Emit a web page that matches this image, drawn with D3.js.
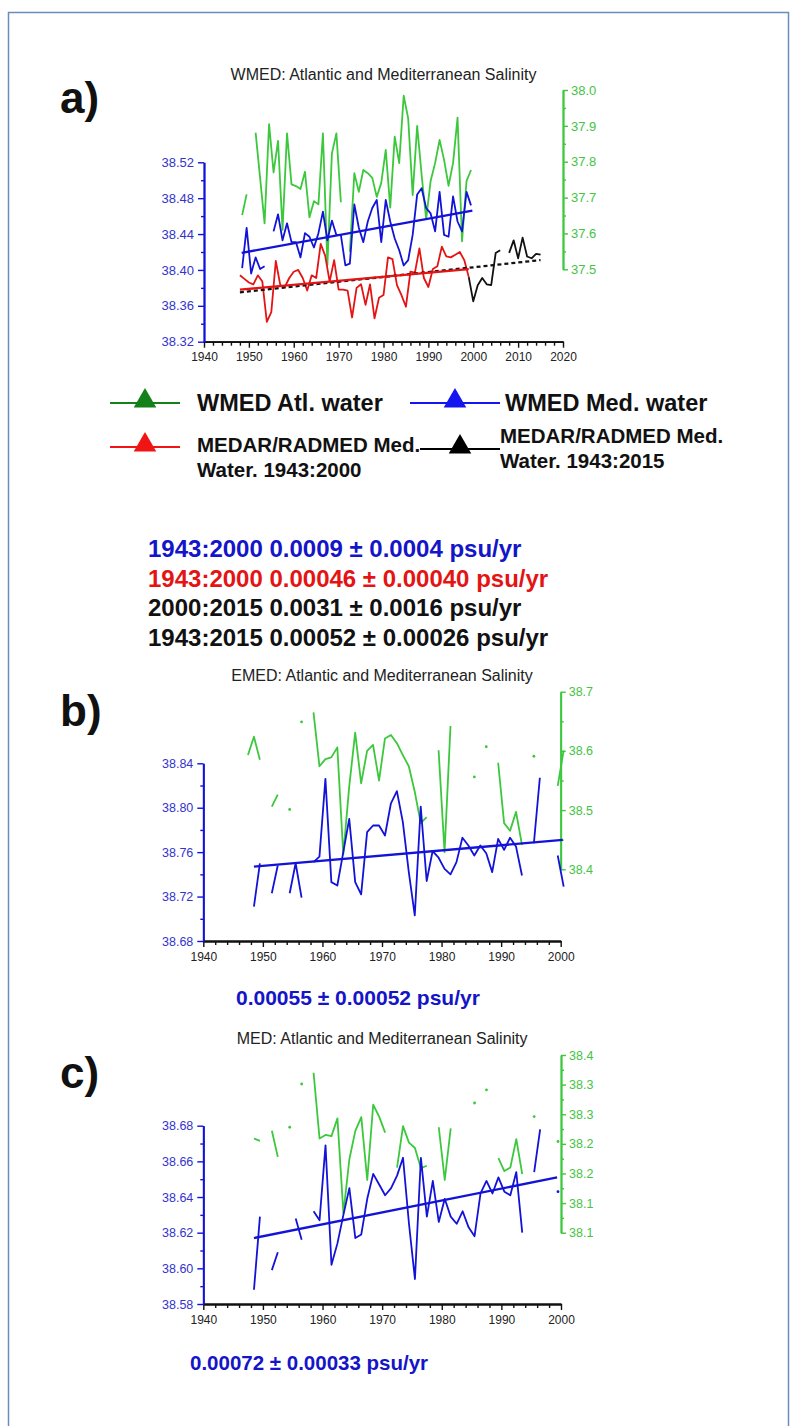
<!DOCTYPE html>
<meta charset="utf-8">
<body style="margin:0;background:#fff">
<svg id="fig" width="790" height="1426"></svg>
<script src="https://cdnjs.cloudflare.com/ajax/libs/d3/7.8.5/d3.min.js"></script>
<script>
// ---------------- data ----------------
// panel a) WMED, annual values 1948..1999
var aYears = d3.range(1948, 2000);
var aMedWater = [38.402, 38.447, 38.396, 38.414, 38.401, 38.404, null, 38.443, 38.462, 38.433,
  38.452, 38.431, 38.431, 38.414, 38.441, 38.437, 38.425, 38.441, 38.465, 38.433,
  38.455, 38.439, 38.439, 38.405, 38.407, 38.473, 38.447, 38.431, 38.454, 38.469,
  38.478, 38.431, 38.478, 38.454, 38.435, 38.422, 38.405, 38.411, 38.439, 38.484,
  38.491, 38.469, 38.463, 38.443, 38.487, 38.439, 38.437, 38.482, 38.454, 38.443,
  38.487, 38.472];
var aAtlWater = [37.651, 37.709, null, 37.881, 37.755, 37.628, 37.905, 37.770, 37.858, 37.610,
  37.879, 37.737, 37.732, 37.724, 37.772, 37.645, 37.690, 37.681, 37.879, 37.512,
  37.823, 37.879, 37.687, null, 37.549, 37.768, 37.716, 37.777, 37.768, 37.755,
  37.702, 37.741, 37.833, 37.672, 37.870, 37.796, 37.984, 37.921, 37.707, 37.900,
  37.763, 37.640, 37.746, 37.796, 37.861, 37.805, 37.733, 37.796, 37.923, 37.578,
  37.746, 37.777];
var aMedar2000 = [38.394, 38.390, 38.386, 38.384, 38.394, 38.387, 38.342, 38.353, 38.410, 38.383,
  38.381, 38.391, 38.398, 38.400, 38.391, 38.377, 38.394, 38.391, 38.429, 38.416,
  38.387, 38.411, 38.378, 38.378, 38.377, 38.347, 38.380, 38.384, 38.361, 38.384,
  38.346, 38.369, 38.372, 38.414, 38.412, 38.383, 38.372, 38.359, 38.398, 38.397,
  38.424, 38.391, 38.381, 38.401, 38.404, 38.426, 38.415, 38.414, 38.417, 38.420,
  38.411, 38.392];
var aYears2015 = d3.range(1999, 2016);
var aMedar2015 = [38.392, 38.365, 38.383, 38.391, 38.384, 38.383, 38.419, 38.422, null, 38.419,
  38.433, 38.413, 38.436, 38.415, 38.413, 38.418, 38.417];
// trend lines [year, value]
var aTrendMed = [[1948.4, 38.419], [1999.8, 38.466]];
var aTrendMedar2000 = [[1948, 38.378], [1999, 38.401]];
var aTrendMedar2015 = [[1948, 38.375], [2015, 38.411]];

// panel b) EMED, 1947..2000
var bcYears = d3.range(1947, 2001);
var bMedWater = [null, 38.711, 38.750, null, 38.723, 38.748, null, 38.723, 38.750, 38.719,
  null, 38.751, 38.756, 38.826, 38.733, 38.730, 38.760, 38.790, 38.733, 38.722,
  38.778, 38.784, 38.784, 38.775, 38.804, 38.815, 38.787, 38.742, 38.703, 38.801,
  38.734, 38.761, 38.755, 38.745, 38.740, 38.751, 38.773, 38.766, 38.757, 38.766,
  38.759, 38.742, 38.772, 38.762, 38.773, 38.765, 38.739, null, 38.768, 38.827,
  null, null, 38.757, 38.729];
var bAtlWater = [38.593, 38.624, 38.585, null, 38.506, 38.526, null, 38.501, null, 38.649,
  null, 38.665, 38.574, 38.586, 38.589, 38.606, 38.425, 38.540, 38.631, 38.545,
  38.600, 38.610, 38.550, 38.621, 38.627, 38.613, 38.593, 38.574, 38.531, 38.478,
  38.488, null, 38.601, 38.429, 38.642, null, null, null, 38.556, null,
  38.607, null, 38.580, 38.478, 38.465, 38.497, 38.441, null, 38.591, null,
  null, null, 38.541, 38.601];
var bTrendMed = [[1948.5, 38.747], [2000.35, 38.771]];

// panel c) MED, 1947..2000
var cMedWater = [null, 38.588, 38.629, null, 38.599, 38.609, null, null, 38.628, 38.616,
  null, 38.632, 38.627, 38.669, 38.602, 38.614, 38.630, 38.645, 38.617, 38.619,
  38.639, 38.653, 38.647, 38.641, 38.645, 38.652, 38.662, 38.625, 38.594, 38.662,
  38.629, 38.649, 38.626, 38.639, 38.629, 38.625, 38.632, 38.623, 38.618, 38.642,
  38.649, 38.642, 38.651, 38.643, 38.641, 38.654, 38.620, null, 38.654, 38.678,
  null, null, 38.643, null];
var cAtlWater = [null, 38.259, 38.255, null, 38.272, 38.228, null, 38.278, null, 38.351,
  null, 38.370, 38.259, 38.265, 38.263, 38.293, 38.133, 38.224, 38.272, 38.295,
  38.189, 38.316, 38.296, 38.269, null, 38.210, 38.280, 38.252, 38.243, 38.209,
  38.213, null, 38.278, 38.189, 38.276, null, null, null, 38.319, null,
  38.341, null, 38.226, 38.204, 38.210, 38.258, 38.199, null, 38.296, null,
  null, null, 38.254, null];
var cTrendMed = [[1948.5, 38.617], [1999.35, 38.651]];

// tick values and labels
var aYearTicks = [1940, 1950, 1960, 1970, 1980, 1990, 2000, 2010, 2020];
var bcYearTicks = [1940, 1950, 1960, 1970, 1980, 1990, 2000];
var aLeftTicks = [38.32, 38.36, 38.40, 38.44, 38.48, 38.52];
var aLeftMinor = [38.34, 38.38, 38.42, 38.46, 38.50];
var aRightTicks = [37.5, 37.6, 37.7, 37.8, 37.9, 38.0];
var aRightMinor = [37.55, 37.65, 37.75, 37.85, 37.95];
var bLeftTicks = [38.68, 38.72, 38.76, 38.80, 38.84];
var bLeftMinor = [38.70, 38.74, 38.78, 38.82];
var bRightTicks = [38.4, 38.5, 38.6, 38.7];
var bRightMinor = [38.45, 38.55, 38.65];
var cLeftTicks = [38.58, 38.60, 38.62, 38.64, 38.66, 38.68];
var cLeftMinor = [38.59, 38.61, 38.63, 38.65, 38.67];
var cRightTicks = [38.10, 38.15, 38.20, 38.25, 38.30, 38.35, 38.40];
var cRightLabels = ["38.1", "38.1", "38.2", "38.2", "38.3", "38.3", "38.4"];
var cRightMinor = [38.125, 38.175, 38.225, 38.275, 38.325, 38.375];

var aStats = ["1943:2000 0.0009 \u00b1 0.0004 psu/yr", "1943:2000 0.00046 \u00b1 0.00040 psu/yr",
  "2000:2015 0.0031 \u00b1 0.0016 psu/yr", "1943:2015 0.00052 \u00b1 0.00026 psu/yr"];
var bStat = "0.00055 \u00b1 0.00052 psu/yr";
var cStat = "0.00072 \u00b1 0.00033 psu/yr";

// ---------------- drawing ----------------
var FONT = "Arial, 'Liberation Sans', sans-serif";
var BLUE = '#1212d8', GREEN = '#3cc83c', RED = '#e41414', BLACK = '#111';
var svg = d3.select('#fig');

// frame round the figure
svg.append('rect').attr('x', 8.5).attr('y', 12.5).attr('width', 780).attr('height', 1440)
  .attr('fill', 'none').attr('stroke', '#6b8dbd').attr('stroke-width', 1.5);

function styleAxis(sel, color, labelColor, size) {
  sel.select('.domain').attr('stroke', color).attr('stroke-width', 1.8);
  sel.selectAll('.tick line').attr('stroke', color).attr('stroke-width', 1.4);
  sel.selectAll('.tick text').attr('fill', labelColor).style('font-family', FONT).style('font-size', size + 'px');
}

function minorsOf(ticks) {
  var out = [];
  for (var i = 0; i < ticks.length - 1; i++) {
    for (var yr = ticks[i] + 2; yr < ticks[i + 1]; yr += 2) out.push(yr);
  }
  return out;
}

function panel(o) {
  var g = svg.append('g');
  var x = d3.scaleLinear().domain(o.xDomain).range([o.left, o.right]);
  var yL = d3.scaleLinear().domain(o.yLDomain).range([o.bottom, o.yLTop]);
  var yR = d3.scaleLinear().domain(o.yRDomain).range([o.yRBottom, o.yRTop]);

  // x axis
  g.append('g').attr('transform', 'translate(0,' + o.bottom + ')')
    .call(d3.axisBottom(x).tickValues(minorsOf(o.xTicks)).tickFormat('').tickSize(4).tickSizeOuter(0))
    .call(s => styleAxis(s, '#111', '#111', 12));
  g.append('g').attr('transform', 'translate(0,' + o.bottom + ')')
    .call(d3.axisBottom(x).tickValues(o.xTicks).tickFormat(d3.format('d')).tickSize(6).tickSizeOuter(0).tickPadding(5))
    .call(s => styleAxis(s, '#111', '#222', 12));

  // left (Mediterranean water) axis
  g.append('g').attr('transform', 'translate(' + o.left + ',0)')
    .call(d3.axisLeft(yL).tickValues(o.yLMinor).tickFormat('').tickSize(3).tickSizeOuter(0))
    .call(s => styleAxis(s, BLUE, BLUE, o.labelSize));
  g.append('g').attr('transform', 'translate(' + o.left + ',0)')
    .call(d3.axisLeft(yL).tickValues(o.yLTicks).tickFormat(d3.format('.2f')).tickSize(6).tickSizeOuter(0).tickPadding(4))
    .call(s => styleAxis(s, BLUE, '#3434cc', o.labelSize));

  // right (Atlantic water) axis
  g.append('g').attr('transform', 'translate(' + o.right + ',0)')
    .call(d3.axisRight(yR).tickValues(o.yRMinor).tickFormat('').tickSize(3).tickSizeOuter(0))
    .call(s => styleAxis(s, GREEN, GREEN, o.labelSize));
  g.append('g').attr('transform', 'translate(' + o.right + ',0)')
    .call(d3.axisRight(yR).tickValues(o.yRTicks).tickFormat((d, i) => o.yRLabels ? o.yRLabels[i] : d3.format('.1f')(d))
      .tickSize(5).tickSizeOuter(0).tickPadding(3))
    .call(s => styleAxis(s, GREEN, '#44c444', o.labelSize));

  // title and panel letter
  g.append('text').attr('x', (o.left + o.right) / 2).attr('y', o.titleY).attr('text-anchor', 'middle')
    .style('font-family', FONT).style('font-size', '16px').attr('fill', '#222').text(o.title);
  g.append('text').attr('x', 60).attr('y', o.letterY)
    .style('font-family', FONT).style('font-size', '44px').style('font-weight', 'bold').attr('fill', '#111').text(o.letter);

  o.x = x; o.yL = yL; o.yR = yR; o.g = g;
  return o;
}

function series(p, years, vals, y, color, off, w) {
  var pts = years.map((yr, i) => ({ yr: yr, v: vals[i] }));
  var line = d3.line().defined(d => d.v != null).x(d => p.x(d.yr + off)).y(d => y(d.v));
  p.g.append('path').datum(pts).attr('d', line).attr('fill', 'none')
    .attr('stroke', color).attr('stroke-width', w || 1.8).attr('stroke-linejoin', 'round');
  // lone values have no neighbour to join: show them as dots
  var lone = pts.filter((d, i) => d.v != null && (i == 0 || pts[i - 1].v == null) && (i == pts.length - 1 || pts[i + 1].v == null));
  p.g.selectAll(null).data(lone).join('circle')
    .attr('cx', d => p.x(d.yr + off)).attr('cy', d => y(d.v)).attr('r', 1.4).attr('fill', color);
}

function trend(p, pts, y, color, dash) {
  p.g.append('path').datum(pts)
    .attr('d', d3.line().x(d => p.x(d[0])).y(d => y(d[1])))
    .attr('fill', 'none').attr('stroke', color).attr('stroke-width', 2.3)
    .attr('stroke-dasharray', dash || null);
}

function boldText(x, y, txt, size, color) {
  svg.append('text').attr('x', x).attr('y', y).style('font-family', FONT).style('font-weight', 'bold')
    .style('font-size', size + 'px').attr('fill', color).text(txt);
}

// ---- a) WMED ----
var pa = panel({
  xDomain: [1940, 2020], left: 204, right: 563, bottom: 341.7,
  yLDomain: [38.32, 38.52], yLTop: 162.3, yRDomain: [37.5, 38.0], yRBottom: 269.3, yRTop: 90,
  xTicks: aYearTicks, yLTicks: aLeftTicks, yLMinor: aLeftMinor, yRTicks: aRightTicks, yRMinor: aRightMinor,
  labelSize: 13, title: 'WMED: Atlantic and Mediterranean Salinity', titleY: 79.5, letter: 'a)', letterY: 113
});
series(pa, aYears, aAtlWater, pa.yR, GREEN, 0.5);
series(pa, aYears, aMedWater, pa.yL, BLUE, 0.5);
series(pa, aYears2015, aMedar2015, pa.yL, BLACK, 0);
series(pa, aYears, aMedar2000, pa.yL, RED, 0);
trend(pa, aTrendMed, pa.yL, BLUE);
trend(pa, aTrendMedar2015, pa.yL, BLACK, '4,3');
trend(pa, aTrendMedar2000, pa.yL, RED);

// legend of a)
var tri = d3.symbol().type(d3.symbolTriangle).size(220);
function legendItem(x1, x2, y, color) {
  svg.append('line').attr('x1', x1).attr('x2', x2).attr('y1', y).attr('y2', y)
    .attr('stroke', color).attr('stroke-width', 2);
  svg.append('path').attr('d', tri).attr('transform', 'translate(' + ((x1 + x2) / 2) + ',' + (y - 2) + ')').attr('fill', color);
}
legendItem(110, 180, 403, '#13801a');
boldText(197, 411, 'WMED Atl. water', 23.5, '#111');
legendItem(410, 500, 403, '#1515f0');
boldText(505, 411, 'WMED Med. water', 23.5, '#111');
legendItem(110, 180, 447, '#f01414');
boldText(197, 452, 'MEDAR/RADMED Med.', 20.5, '#111');
boldText(197, 477, 'Water. 1943:2000', 20.5, '#111');
legendItem(420, 500, 449, '#000');
boldText(500, 443, 'MEDAR/RADMED Med.', 20.5, '#111');
boldText(500, 468, 'Water. 1943:2015', 20.5, '#111');

var statColors = ['#1414c8', RED, '#111', '#111'];
aStats.forEach((s, i) => boldText(148, 557 + i * 29.5, s, 24, statColors[i]));

// ---- b) EMED ----
var pb = panel({
  xDomain: [1940, 2000], left: 203.3, right: 560.7, bottom: 941,
  yLDomain: [38.68, 38.84], yLTop: 763.3, yRDomain: [38.4, 38.7], yRBottom: 869.3, yRTop: 691.7,
  xTicks: bcYearTicks, yLTicks: bLeftTicks, yLMinor: bLeftMinor, yRTicks: bRightTicks, yRMinor: bRightMinor,
  labelSize: 12.5, title: 'EMED: Atlantic and Mediterranean Salinity', titleY: 680.5, letter: 'b)', letterY: 726
});
series(pb, bcYears, bAtlWater, pb.yR, GREEN, 0.5);
series(pb, bcYears, bMedWater, pb.yL, BLUE, 0.5);
trend(pb, bTrendMed, pb.yL, BLUE);
boldText(236, 1005, bStat, 21, '#1414c8');

// ---- c) MED ----
var pc = panel({
  xDomain: [1940, 2000], left: 203.3, right: 561, bottom: 1304,
  yLDomain: [38.58, 38.68], yLTop: 1125.7, yRDomain: [38.1, 38.4], yRBottom: 1232.7, yRTop: 1055,
  xTicks: bcYearTicks, yLTicks: cLeftTicks, yLMinor: cLeftMinor, yRTicks: cRightTicks, yRMinor: cRightMinor,
  yRLabels: cRightLabels,
  labelSize: 12.5, title: 'MED: Atlantic and Mediterranean Salinity', titleY: 1043.5, letter: 'c)', letterY: 1088
});
series(pc, bcYears, cAtlWater, pc.yR, GREEN, 0.5);
series(pc, bcYears, cMedWater, pc.yL, BLUE, 0.5);
trend(pc, cTrendMed, pc.yL, BLUE);
boldText(190, 1370, cStat, 20.5, '#1414c8');
</script>
</body>
